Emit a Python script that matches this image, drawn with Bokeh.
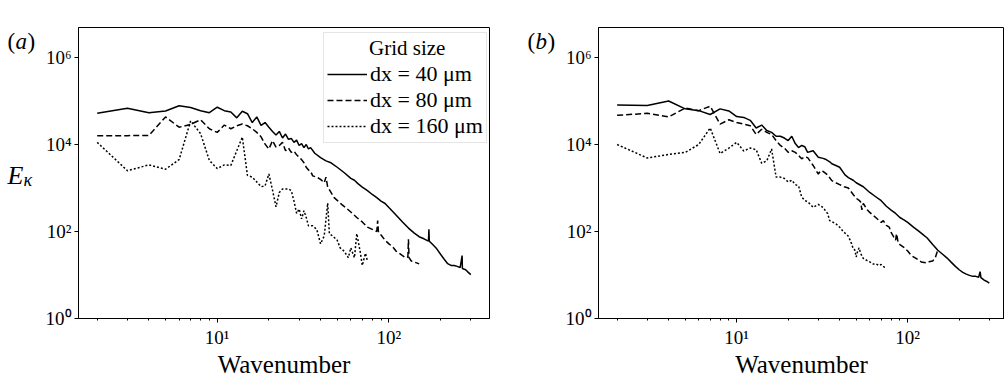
from bokeh.plotting import figure
from bokeh.models import Range1d, FixedTicker, Legend, LegendItem, Label
from bokeh.layouts import row
from bokeh.embed import file_html
from bokeh.resources import INLINE

FONT = "Liberation Serif"

# ---------------- data ----------------
# panel (a)
a40_k = [2, 3, 4, 5, 6, 7, 8, 9, 10, 11, 12, 13, 14, 15, 16, 17, 18, 19, 20, 21, 22, 23, 24, 25, 26, 27, 28, 29,
         30, 31, 32, 33, 34, 35, 37, 40, 43, 46, 50, 55, 60, 63, 66, 70, 75, 80, 85, 90, 95, 100, 110, 120, 130,
         140, 150, 160, 170, 171, 172, 180, 190, 200, 210, 220, 230, 240, 250, 260, 267, 268, 280, 290, 300]
a40_E = [5.2e4, 6.8e4, 5.4e4, 5.9e4, 7.8e4, 7.1e4, 6.0e4, 5.4e4, 7.2e4, 6.0e4, 5.6e4, 4.1e4, 5.8e4, 5.1e4, 3.2e4,
         4.3e4, 2.75e4, 3.2e4, 2.5e4, 2.0e4, 1.66e4, 2.0e4, 1.41e4, 1.74e4, 1.32e4, 1.38e4, 1.12e4, 1.26e4, 9.5e3,
         1.05e4, 8.5e3, 1.0e4, 7.9e3, 8.5e3, 6.3e3, 5.0e3, 4.2e3, 3.8e3, 3.0e3, 2.24e3, 1.66e3, 1.51e3, 1.26e3,
         1.05e3, 8.7e2, 7.1e2, 6.0e2, 5.0e2, 4.4e2, 3.55e2, 2.4e2, 1.66e2, 1.2e2, 9.3e1, 7.6e1, 6.8e1, 6.0e1,
         1.12e2, 6.0e1, 5.0e1, 4.0e1, 3.0e1, 2.3e1, 1.82e1, 1.66e1, 1.66e1, 1.58e1, 1.48e1, 2.8e1, 1.41e1, 1.32e1,
         1.15e1, 1.02e1]

a80_k = [2, 3, 4, 5, 6, 7, 8, 9, 10, 11, 12, 13, 14, 15, 16, 17, 18, 19, 20, 21, 22, 23, 24, 25, 26, 27, 28, 29,
         30, 31, 32, 33, 34, 35, 36, 38, 40, 42, 43, 44, 46, 48, 50, 53, 56, 60, 65, 70, 75, 80, 85, 86, 87, 90,
         95, 100, 105, 110, 115, 120, 125, 129, 130, 131, 135, 140, 145, 150]
a80_E = [1.6e4, 1.6e4, 1.62e4, 4.3e4, 2.5e4, 2.9e4, 3.7e4, 2.3e4, 1.9e4, 2.8e4, 2.3e4, 2.7e4, 2.95e4, 2.7e4, 2.3e4,
         1.9e4, 1.5e4, 1.02e4, 7.9e3, 1.23e4, 8.7e3, 9.5e3, 1.12e4, 7.2e3, 8.3e3, 6.6e3, 7.1e3, 5.8e3, 5.1e3,
         4.5e3, 3.8e3, 3.0e3, 2.6e3, 2.4e3, 1.9e3, 1.78e3, 1.58e3, 1.32e3, 1.78e3, 1.05e3, 7.9e2, 6.0e2, 5.2e2,
         4.2e2, 3.55e2, 2.8e2, 2.1e2, 1.66e2, 1.26e2, 1.12e2, 1.0e2, 1.78e2, 9.5e1, 8.3e1, 6.3e1, 5.2e1, 4.5e1,
         3.55e1, 3.16e1, 2.8e1, 2.5e1, 2.6e1, 6.6e1, 2.5e1, 2.1e1, 2.0e1, 1.9e1, 1.8e1]

a160_k = [2, 3, 4, 5, 6, 7, 8, 9, 10, 11, 12, 13, 14, 15, 16, 17, 18, 19, 20, 21, 22, 23, 24, 26, 27, 28, 29, 30,
          31, 32, 33, 34, 36, 38, 40, 42, 44, 45, 47, 50, 52, 55, 58, 60, 63, 65, 68, 70, 73, 75]
a160_E = [1.12e4, 2.5e3, 3.4e3, 2.7e3, 4.5e3, 3.5e4, 1.78e4, 4.3e3, 2.8e3, 3.4e3, 3.3e3, 7.2e3, 1.48e4, 1.95e3,
          1.78e3, 1.38e3, 1.07e3, 1.12e3, 2.1e3, 8.9e2, 3.7e2, 7.9e2, 9.5e2, 9.5e2, 8.7e2, 5.0e2, 2.6e2, 3.3e2,
          1.95e2, 3.0e2, 2.1e2, 1.35e2, 1.35e2, 1.12e2, 5.2e1, 7.9e1, 4.5e2, 8.9e1, 7.9e1, 6.3e1, 4.2e1, 3.5e1,
          2.5e1, 4.2e1, 2.5e1, 8.9e1, 3.5e1, 1.66e1, 3.16e1, 2.1e1]

# panel (b)
b40_k = [2, 3, 4, 5, 6, 7, 8, 9, 10, 11, 12, 13, 14, 15, 16, 17, 18, 19, 20, 21, 22, 23, 24, 25, 26, 27, 28, 30,
         32, 33, 35, 36, 38, 40, 43, 45, 48, 50, 55, 60, 65, 70, 75, 80, 85, 90, 95, 100, 108, 115, 122, 130, 140,
         150, 160, 170, 180, 190, 200, 210, 220, 230, 240, 250, 260, 265, 268, 280, 290, 300]
b40_E = [8.1e4, 7.9e4, 1.0e5, 6.6e4, 6.0e4, 4.9e4, 6.6e4, 5.9e4, 4.4e4, 4.2e4, 3.6e4, 2.4e4, 2.8e4, 2.1e4, 1.9e4,
         1.55e4, 1.55e4, 1.41e4, 1.23e4, 1.55e4, 1.05e4, 8.5e3, 9.5e3, 8.9e3, 6.6e3, 6.9e3, 7.2e3, 5.1e3, 4.8e3,
         4.6e3, 4.0e3, 3.6e3, 3.3e3, 3.0e3, 2.0e3, 1.74e3, 1.51e3, 1.32e3, 1.07e3, 7.9e2, 6.3e2, 5.1e2, 3.8e2,
         3.1e2, 2.6e2, 2.1e2, 1.86e2, 1.62e2, 1.26e2, 1.05e2, 8.7e1, 7.1e1, 5.0e1, 3.7e1, 3.0e1, 2.45e1, 1.95e1,
         1.58e1, 1.32e1, 1.15e1, 1.05e1, 9.8, 9.3, 9.3, 8.9, 1.2e1, 8.7, 7.6, 7.1, 6.5]

b80_k = [2, 3, 4, 5, 6, 7, 8, 9, 10, 11, 12, 13, 14, 15, 16, 17, 18, 19, 20, 21, 22, 23, 24, 25, 26, 28, 30, 31,
         32, 34, 36, 38, 40, 43, 45, 48, 50, 52, 53, 54, 55, 58, 60, 65, 70, 72, 75, 78, 80, 85, 86, 88, 90, 95,
         100, 105, 110, 115, 120, 125, 130, 135, 140, 145, 150]
b80_E = [4.7e4, 5.2e4, 4.3e4, 6.9e4, 6.0e4, 7.6e4, 2.95e4, 3.7e4, 3.2e4, 2.95e4, 2.7e4, 1.7e4, 2.24e4, 1.9e4,
         1.7e4, 1.23e4, 9.5e3, 8.3e3, 6.6e3, 7.2e3, 6.6e3, 5.6e3, 4.7e3, 5.2e3, 5.0e3, 3.3e3, 2.1e3, 2.5e3, 2.4e3,
         2.0e3, 1.48e3, 1.32e3, 1.2e3, 1.05e3, 1.0e3, 7.1e2, 5.8e2, 5.2e2, 4.8e2, 3.16e2, 4.4e2, 3.16e2, 2.75e2,
         2.1e2, 1.62e2, 1.78e2, 1.38e2, 1.26e2, 9.5e1, 6.3e1, 8.9e1, 5.5e1, 5.0e1, 4.3e1, 3.55e1, 2.8e1, 2.5e1,
         2.24e1, 2.0e1, 1.95e1, 1.9e1, 2.05e1, 2.1e1, 2.5e1, 3.8e1]

b160_k = [2, 3, 4, 5, 6, 7, 8, 9, 10, 11, 12, 13, 14, 15, 16, 17, 18, 19, 20, 21, 22, 23, 24, 25, 26, 27, 28, 30,
          32, 34, 35, 38, 40, 42, 45, 47, 48, 49, 50, 51, 52, 53, 55, 58, 60, 63, 65, 68, 70, 73, 75]
b160_E = [1.0e4, 4.9e3, 5.9e3, 6.6e3, 1.0e4, 2.4e4, 6.2e3, 8.3e3, 1.12e4, 7.1e3, 8.3e3, 7.6e3, 3.7e3, 4.2e3,
          7.9e3, 1.78e3, 1.78e3, 1.66e3, 1.38e3, 1.51e3, 1.2e3, 1.12e3, 6.2e2, 5.2e2, 4.8e2, 4.2e2, 3.6e2, 4.2e2,
          3.55e2, 2.6e2, 1.78e2, 1.51e2, 1.26e2, 1.0e2, 7.8e1, 5.2e1, 4.0e1, 3.8e1, 2.6e1, 3.55e1, 4.2e1, 3.16e1,
          2.4e1, 2.14e1, 2.0e1, 1.78e1, 1.82e1, 1.66e1, 1.74e1, 1.51e1, 1.45e1]

series_labels = ["dx = 40 μm", "dx = 80 μm", "dx = 160 μm"]
legend_title = "Grid size"
x_label = "Wavenumber"
panel_letters = ["a", "b"]

y_ticks = [1, 1e2, 1e4, 1e6]
y_tick_labels = ["10⁰", "10²", "10⁴", "10⁶"]
x_ticks = [10, 100]
x_tick_labels = ["10¹", "10²"]
x_minor_ticks = [2, 3, 4, 5, 6, 7, 8, 9, 20, 30, 40, 50, 60, 70, 80, 90, 200, 300]

# ---------------- styling ----------------
STYLES = [dict(line_dash="solid"), dict(line_dash="6 3"), dict(line_dash="2 2")]
LW = 1.5
H = 380
BT, BB = 27, 62          # borders above / below the frames (same for every figure of the row)
X0 = 10 ** 0.192
Y0, Y1 = 1, 10 ** 6.69
PX_PER_DECADE = (H - BT - BB) / 6.69


def y_at_px(px_from_top):
    """Position (in the shared log y scale) of a canvas row, for placing the side texts."""
    return 10 ** ((H - BB - px_from_top) / PX_PER_DECADE)


def text_strip(width, pieces):
    """A bare figure, with the panels' vertical scale, used only to hold texts outside the panels."""
    s = figure(width=width, height=H, x_range=Range1d(0, width), y_range=Range1d(Y0, Y1),
               y_axis_type="log", x_axis_location=None, y_axis_location=None, output_backend="svg",
               toolbar_location=None, min_border_left=0, min_border_right=0, min_border_top=BT,
               min_border_bottom=BB, background_fill_color="white", border_fill_color="white")
    s.outline_line_color = None
    s.grid.visible = False
    for txt, x, ypx, size, style in pieces:
        s.add_layout(Label(x=x, y=y_at_px(ypx), text=txt, text_font=FONT, text_font_size=size,
                           text_font_style=style, text_color="black", text_baseline="alphabetic"))
    return s


def make_panel(x_end, width, border_left, border_right, datasets):
    p = figure(width=width, height=H, x_axis_type="log", y_axis_type="log",
               x_range=Range1d(X0, x_end), y_range=Range1d(Y0, Y1),
               output_backend="svg", toolbar_location=None,
               min_border_left=border_left, min_border_right=border_right,
               min_border_top=BT, min_border_bottom=BB,
               background_fill_color="white", border_fill_color="white")
    p.outline_line_color = "black"
    p.outline_line_width = 1
    p.outline_line_alpha = 1
    p.xgrid.visible = False
    p.ygrid.visible = False

    xa = p.xaxis[0]
    xa.ticker = FixedTicker(ticks=x_ticks, minor_ticks=x_minor_ticks)
    xa.major_label_overrides = {t: s for t, s in zip(x_ticks, x_tick_labels)}
    ya = p.yaxis[0]
    ya.ticker = FixedTicker(ticks=y_ticks, minor_ticks=[])
    ya.major_label_overrides = {t: s for t, s in zip(y_ticks, y_tick_labels)}
    for ax in (xa, ya):
        ax.axis_line_color = "black"
        ax.axis_line_width = 1
        ax.major_tick_line_color = "black"
        ax.minor_tick_line_color = "black"
        ax.major_tick_out = 4
        ax.major_tick_in = 0
        ax.minor_tick_out = 2
        ax.minor_tick_in = 0
        ax.major_label_text_font = FONT
        ax.major_label_text_font_size = "19px"
        ax.major_label_text_color = "black"
    xa.major_label_standoff = 4
    ya.major_label_standoff = 3
    xa.axis_label = x_label
    xa.axis_label_text_font = FONT
    xa.axis_label_text_font_size = "25px"
    xa.axis_label_text_font_style = "normal"
    xa.axis_label_text_color = "black"
    xa.axis_label_standoff = 0

    renderers = []
    for (k, E), st in zip(datasets, STYLES):
        r = p.line(k, E, line_color="black", line_width=LW, **st)
        renderers.append(r)
    return p, renderers


# strip left of panel (a): panel letter and the y label E_κ  (rows in pixels, tuned to the render)
strip_a = text_strip(40, [("(", 7, 41, "23px", "normal"),
                          (panel_letters[0], 15, 41, "23px", "italic"),
                          (")", 27, 41, "23px", "normal"),
                          ("E", 7, 175, "26px", "italic"),
                          ("κ", 23, 179, "18px", "italic")])
# strip between the panels: panel letter (b)
strip_b = text_strip(60, [("(", 27, 41, "23px", "normal"),
                          (panel_letters[1], 35, 41, "23px", "italic"),
                          (")", 47, 41, "23px", "normal")])

p1, r1 = make_panel(10 ** 2.586, 460, 38, 11, [(a40_k, a40_E), (a80_k, a80_E), (a160_k, a160_E)])
p2, r2 = make_panel(10 ** 2.566, 444, 38, 0, [(b40_k, b40_E), (b80_k, b80_E), (b160_k, b160_E)])

legend = Legend(items=[LegendItem(label=l, renderers=[r]) for l, r in zip(series_labels, r1)],
                title="\u00a0" * 8 + legend_title, location=(245, 175),
                label_text_font=FONT, label_text_font_size="22px", label_text_color="black",
                title_text_font=FONT, title_text_font_size="21px", title_text_font_style="normal",
                title_text_color="black", title_standoff=0,
                glyph_width=40, glyph_height=20, label_height=20, spacing=0, padding=3,
                label_standoff=3, margin=0, border_line_color="#cccccc", border_line_width=1,
                background_fill_alpha=0.8)
p1.add_layout(legend)

layout = row(strip_a, p1, strip_b, p2)
open("out.html", "w").write(file_html(layout, INLINE))
